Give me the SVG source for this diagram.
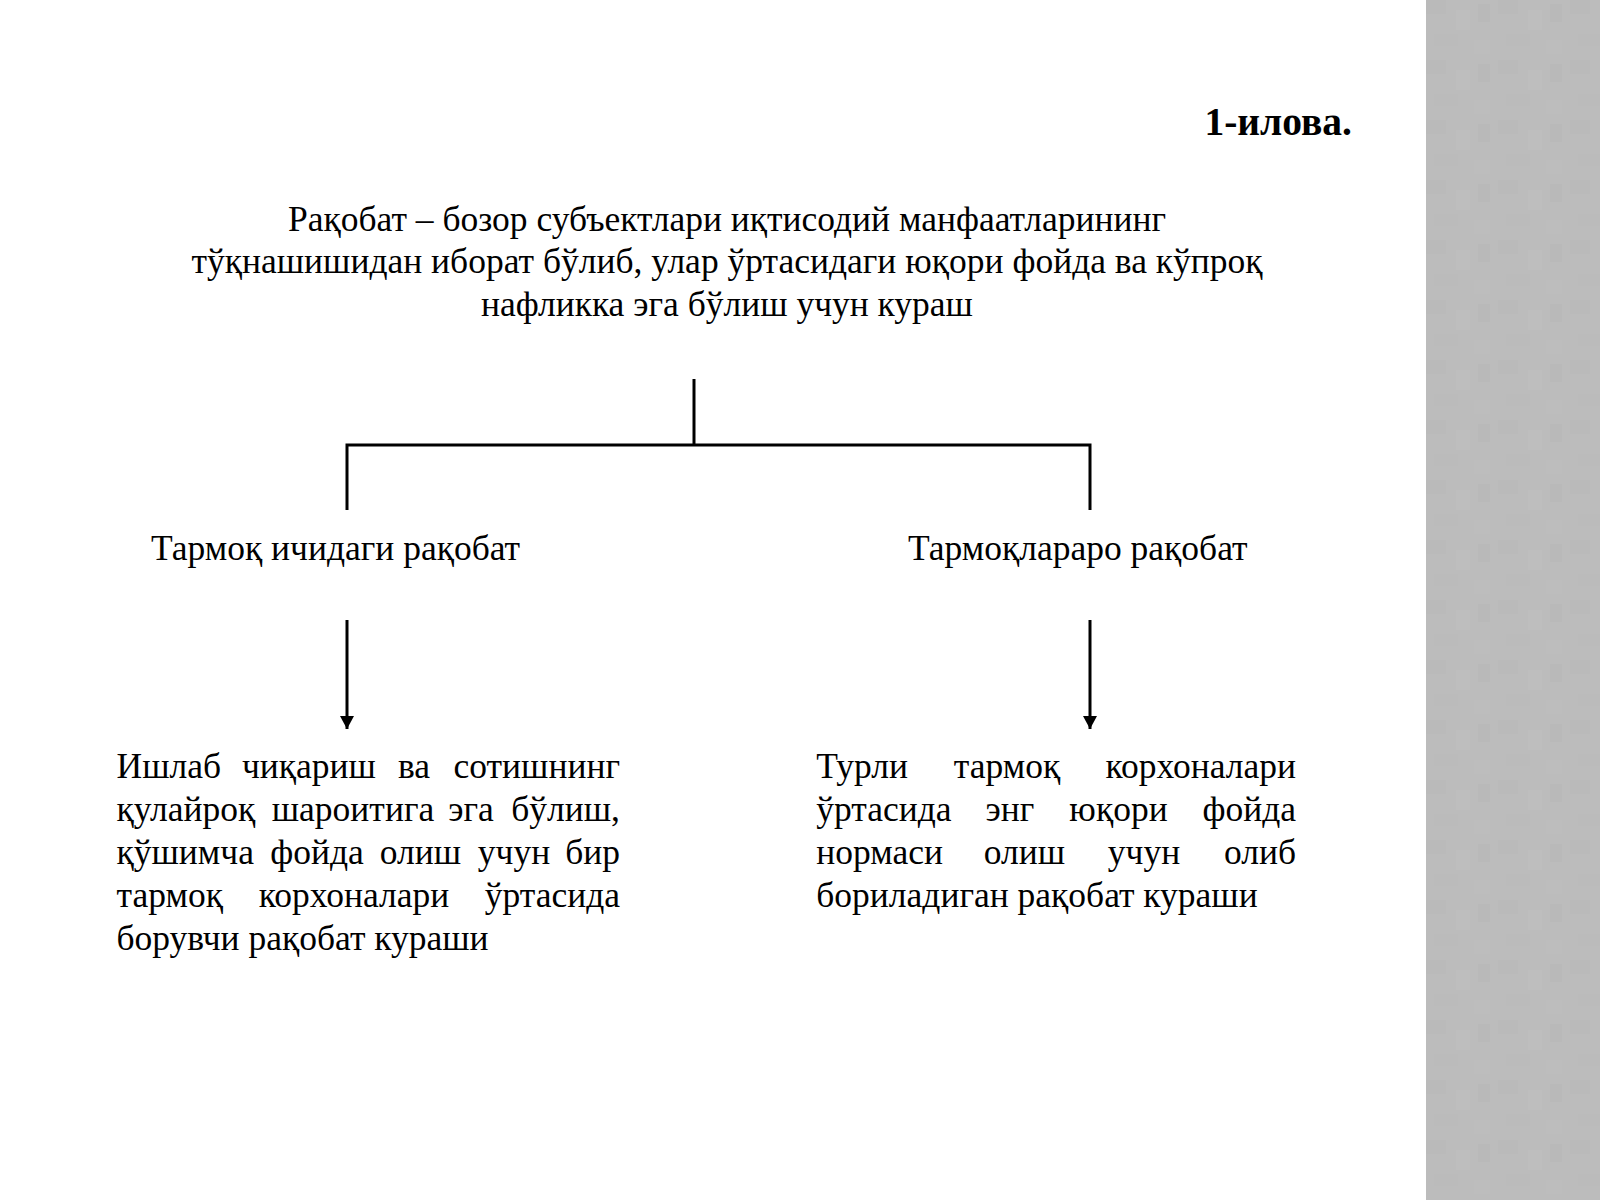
<svg xmlns="http://www.w3.org/2000/svg" width="1600" height="1200" viewBox="0 0 1600 1200">
<defs>
<style>
text{font-family:"Liberation Serif","Times New Roman",serif;fill:#000;}
.t{font-size:35.5px;}
.ttl{font-size:39.5px;font-weight:bold;}
.m{text-anchor:middle;}
.e{text-anchor:end;}
.ln{stroke:#000;stroke-width:3;fill:none;}
</style>
<marker id="ah" markerWidth="13" markerHeight="14" refX="13" refY="7" orient="auto" markerUnits="userSpaceOnUse" viewBox="0 0 13 14">
<path d="M0,0 L13,7 L0,14 Z" fill="#000"/>
</marker>
<pattern id="tex" x="1426" y="0" width="72" height="60" patternUnits="userSpaceOnUse">
<rect width="72" height="60" fill="#bcbcbc"/>
<rect x="0" y="0" width="20" height="14" fill="#bababa"/>
<rect x="30" y="10" width="14" height="20" fill="#bebebe"/>
<rect x="8" y="34" width="24" height="12" fill="#bbbbbb"/>
<rect x="48" y="40" width="16" height="14" fill="#bdbdbd"/>
<rect x="52" y="4" width="12" height="18" fill="#b9b9b9"/>
</pattern>
</defs>
<rect width="1600" height="1200" fill="#fff"/>
<rect id="sidebar" x="1426" y="0" width="174" height="1200" fill="url(#tex)"/>

<g id="title"><text class="ttl e" x="1352" y="135">1-илова.</text></g>

<g id="definition">
<text class="t m" x="727" y="231">Рақобат – бозор субъектлари иқтисодий манфаатларининг</text>
<text class="t m" x="727" y="273">тўқнашишидан иборат бўлиб, улар ўртасидаги юқори фойда ва кўпроқ</text>
<text class="t m" x="727" y="316">нафликка эга бўлиш учун кураш</text>
</g>

<g id="connectors">
<path class="ln" d="M694,379 V445"/>
<path class="ln" d="M347,510 V445 H1090 V510"/>
<path class="ln" d="M347,620 V729" marker-end="url(#ah)"/>
<path class="ln" d="M1090,620 V729" marker-end="url(#ah)"/>
</g>

<g id="intra"><text class="t" x="151" y="560">Тармоқ ичидаги рақобат</text></g>
<g id="inter"><text class="t" x="908" y="560">Тармоқлараро рақобат</text></g>

<g id="intra-desc">
<text class="t" x="116.5" y="778">Ишлаб</text>
<text class="t m" x="309" y="778">чиқариш</text>
<text class="t m" x="414" y="778">ва</text>
<text class="t e" x="620" y="778">сотишнинг</text>
<text class="t" x="116.5" y="821">қулайроқ</text>
<text class="t m" x="353" y="821">шароитига</text>
<text class="t m" x="471" y="821">эга</text>
<text class="t e" x="620" y="821">бўлиш,</text>
<text class="t" x="116.5" y="864">қўшимча</text>
<text class="t m" x="317" y="864">фойда</text>
<text class="t m" x="420.5" y="864">олиш</text>
<text class="t m" x="514" y="864">учун</text>
<text class="t e" x="620" y="864">бир</text>
<text class="t" x="116.5" y="907">тармоқ</text>
<text class="t m" x="354" y="907">корхоналари</text>
<text class="t e" x="620" y="907">ўртасида</text>
<text class="t" x="116.5" y="950">борувчи рақобат кураши</text>
</g>

<g id="inter-desc">
<text class="t" x="816.3" y="778">Турли</text>
<text class="t m" x="1007" y="778">тармоқ</text>
<text class="t e" x="1296" y="778">корхоналари</text>
<text class="t" x="816.3" y="821">ўртасида</text>
<text class="t m" x="1010" y="821">энг</text>
<text class="t m" x="1118.5" y="821">юқори</text>
<text class="t e" x="1296" y="821">фойда</text>
<text class="t" x="816.3" y="864">нормаси</text>
<text class="t m" x="1024.5" y="864">олиш</text>
<text class="t m" x="1144" y="864">учун</text>
<text class="t e" x="1296" y="864">олиб</text>
<text class="t" x="816.3" y="907">бориладиган рақобат кураши</text>
</g>
</svg>
